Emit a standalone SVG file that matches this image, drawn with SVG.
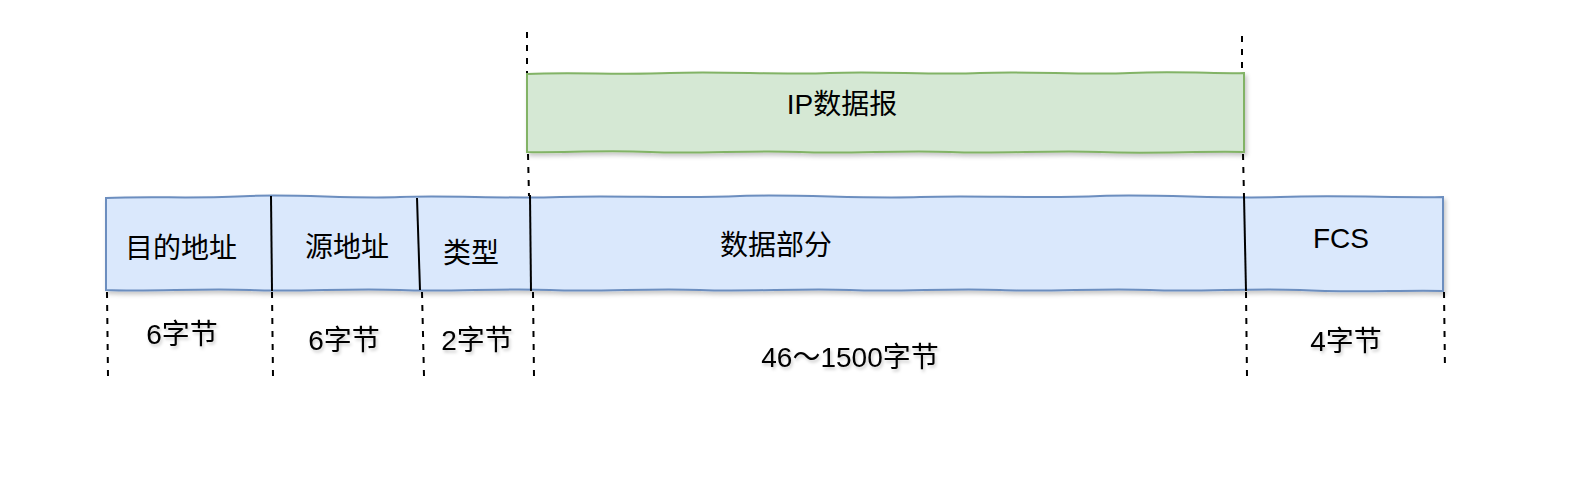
<svg xmlns="http://www.w3.org/2000/svg" width="1574" height="494" viewBox="0 0 1574 494">
<defs>
<filter id="sh" x="-5%" y="-20%" width="110%" height="150%">
<feDropShadow dx="2" dy="3" stdDeviation="2" flood-color="#000" flood-opacity="0.22"/>
</filter>
<filter id="tsh" x="-10%" y="-30%" width="120%" height="170%">
<feDropShadow dx="1.5" dy="2.5" stdDeviation="1.5" flood-color="#000" flood-opacity="0.2"/>
</filter>
<style>
.blue{fill:#dae8fc;stroke:#6c8ebf;stroke-width:2;}
.green{fill:#d5e8d4;stroke:#82b366;stroke-width:2;}
.div{stroke:#000;stroke-width:2;fill:none;}
.dash{stroke:#000;stroke-width:2;stroke-dasharray:6 7;fill:none;}
text{font-family:"Liberation Sans","Noto Sans CJK SC",sans-serif;font-size:28px;fill:#000;text-anchor:middle;dominant-baseline:central;}
</style>
</defs>
<rect width="1574" height="494" fill="#fff"/>
<g id="ip-datagram" filter="url(#sh)">
<path class="green" d="M527,74 C570,72 620,75 670,73 C720,71 780,75 830,73 C880,71 930,75 980,73 C1030,71 1080,75 1130,73 C1180,71 1220,74 1244,73 L1244,152 C1200,151 1150,154 1100,152 C1050,150 1000,154 950,152 C900,150 850,154 800,152 C750,150 700,154 650,152 C600,150 560,153 527,152 Z"/>
</g>
<text x="842" y="104">IP数据报</text>
<g id="frame" filter="url(#sh)">
<path class="blue" d="M106,198 C150,196 200,199 250,196 C300,194 350,199 400,197 C450,195 500,199 560,197 C620,195 680,199 740,196 C800,194 860,199 920,197 C980,195 1040,199 1100,196 C1160,194 1220,199 1280,197 C1340,195 1400,198 1443,197 L1443,291 C1400,290 1350,293 1300,290 C1250,288 1200,292 1150,290 C1100,288 1050,292 1000,290 C950,288 900,292 850,290 C800,288 750,292 700,290 C650,288 600,292 550,290 C500,288 450,292 400,290 C350,288 300,292 250,290 C200,288 150,292 106,290 Z"/>
</g>
<g id="dividers">
<path class="div" d="M271,196 L272,291"/>
<path class="div" d="M417,198 L420,290"/>
<path class="div" d="M530,195 L531,291"/>
<path class="div" d="M1244,196 L1246,291"/>
</g>
<g id="field-dst"><text x="181" y="248">目的地址</text></g>
<g id="field-src"><text x="347" y="247">源地址</text></g>
<g id="field-type"><text x="471" y="253">类型</text></g>
<g id="field-data"><text x="776" y="245">数据部分</text></g>
<g id="field-fcs"><text x="1341" y="238">FCS</text></g>
<g id="connectors">
<path class="dash" d="M527,32 L527,73"/>
<path class="dash" d="M1242,36 L1242,73"/>
<path class="dash" d="M528,154 L529,196"/>
<path class="dash" d="M1243,154 L1244,196"/>
<path class="dash" d="M107,292 L108,376"/>
<path class="dash" d="M272,292 L273,376"/>
<path class="dash" d="M422,292 L424,376"/>
<path class="dash" d="M533,292 L534,376"/>
<path class="dash" d="M1246,292 L1247,376"/>
<path class="dash" d="M1444,292 L1445,370"/>
</g>
<g id="sizes" filter="url(#tsh)">
<text x="182" y="334">6字节</text>
<text x="344" y="340">6字节</text>
<text x="477" y="340">2字节</text>
<text x="850" y="357">46～1500字节</text>
<text x="1346" y="341">4字节</text>
</g>
</svg>
